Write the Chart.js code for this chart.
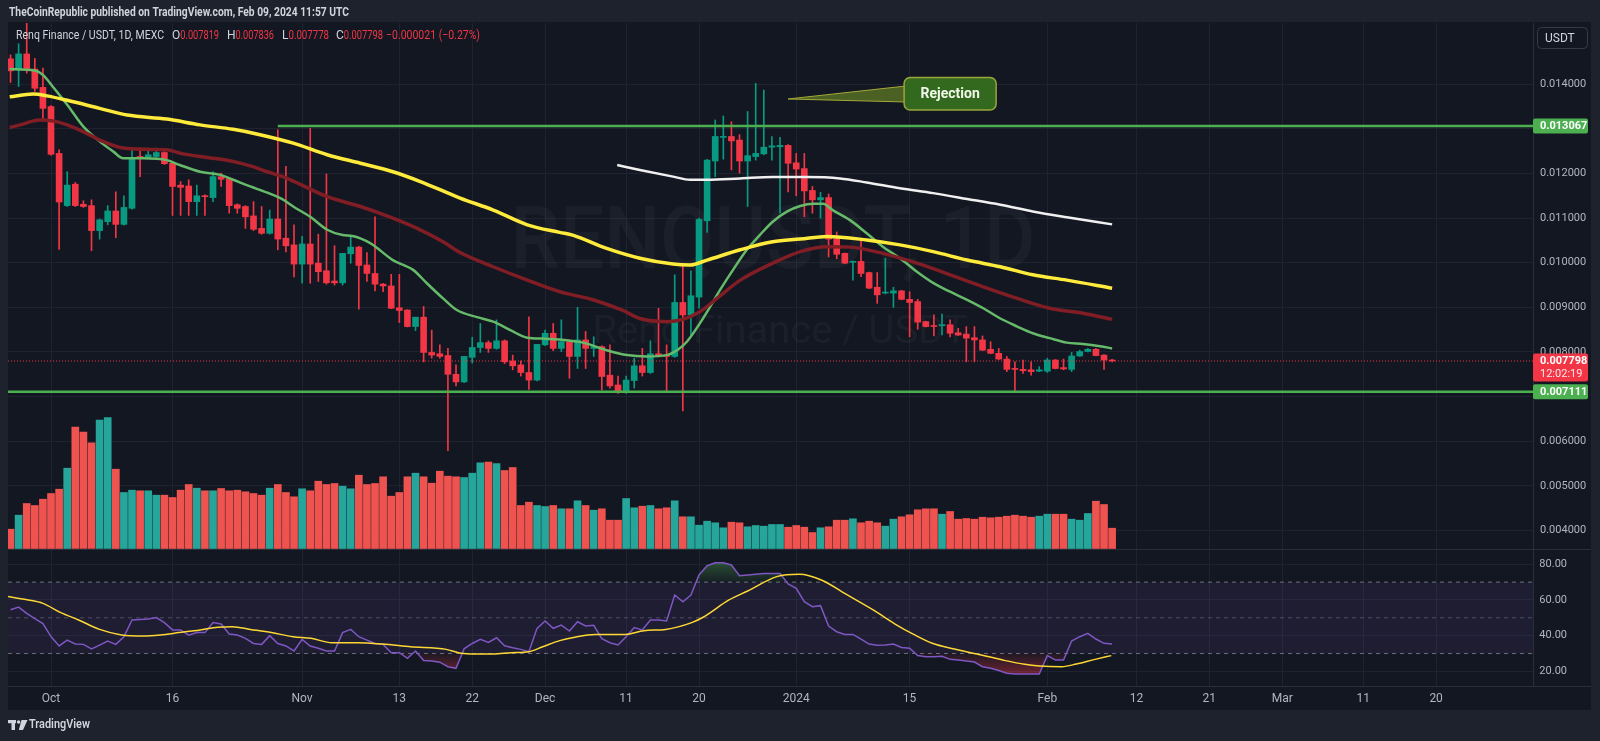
<!DOCTYPE html>
<html>
<head>
<meta charset="utf-8">
<title>Renq Finance / USDT, 1D, MEXC</title>
<script src="https://cdn.jsdelivr.net/npm/chart.js@4.4.1/dist/chart.umd.min.js"></script>
<style>
html,body{margin:0;padding:0;background:#1e222d;overflow:hidden}
canvas{display:block}
</style>
</head>
<body>
<canvas id="chart" width="1600" height="741"></canvas>
<script>
// ================= DATA =================
// days are counted from 2023-10-01; the first candle is 2023-09-26
const startDay = -5;

const opens = [0.01457,0.01432,0.01468,0.01434,0.01393,0.01350,0.01245,0.01128,0.01176,0.01131,
0.01128,0.01072,0.01092,0.01116,0.01086,0.01122,0.01238,0.01236,0.01238,0.01247,
0.01223,0.01174,0.01172,0.01137,0.01150,0.01146,0.01193,0.01189,0.01130,0.01126,
0.01105,0.01077,0.01066,0.01098,0.01055,0.01040,0.00997,0.01042,0.00999,0.00982,
0.00959,0.00955,0.01020,0.01035,0.00995,0.00976,0.00952,0.00948,0.00899,0.00894,
0.00857,0.00878,0.00799,0.00796,0.00792,0.00750,0.00733,0.00788,0.00810,0.00821,
0.00808,0.00825,0.00780,0.00771,0.00754,0.00737,0.00816,0.00842,0.00808,0.00823,
0.00790,0.00827,0.00808,0.00812,0.00748,0.00726,0.00709,0.00736,0.00769,0.00754,
0.00796,0.00793,0.00790,0.00911,0.00883,0.00923,0.01094,0.01228,0.01281,0.01283,
0.01275,0.01228,0.01238,0.01244,0.01259,0.01260,0.01263,0.01224,0.01211,0.01162,
0.01141,0.01146,0.01053,0.01021,0.01001,0.01003,0.00978,0.00945,0.00932,0.00932,
0.00937,0.00918,0.00913,0.00868,0.00858,0.00859,0.00861,0.00843,0.00840,0.00832,
0.00827,0.00806,0.00797,0.00784,0.00763,0.00761,0.00760,0.00757,0.00757,0.00782,
0.00765,0.00761,0.00791,0.00801,0.00806,0.00793,0.007819];

const highs = [0.01466,0.01491,0.01540,0.01458,0.01436,0.01352,0.01253,0.01204,0.01180,0.01139,
0.01141,0.01098,0.01128,0.01159,0.01150,0.01257,0.01257,0.01257,0.01257,0.01249,
0.01225,0.01182,0.01186,0.01174,0.01152,0.01204,0.01201,0.01191,0.01132,0.01128,
0.01137,0.01126,0.01118,0.01298,0.01216,0.01085,0.01059,0.01301,0.01064,0.01199,
0.01038,0.01021,0.01057,0.01037,0.01023,0.01103,0.00954,0.00974,0.00974,0.00895,
0.00878,0.00902,0.00849,0.00816,0.00808,0.00771,0.00790,0.00833,0.00864,0.00825,
0.00872,0.00827,0.00793,0.00780,0.00879,0.00817,0.00849,0.00864,0.00872,0.00825,
0.00900,0.00846,0.00834,0.00814,0.00816,0.00746,0.00746,0.00786,0.00808,0.00825,
0.00898,0.00816,0.00973,0.00997,0.00982,0.01100,0.01232,0.01320,0.01329,0.01316,
0.01287,0.01339,0.01402,0.01387,0.01283,0.01281,0.01265,0.01245,0.01245,0.01171,
0.01158,0.01154,0.01069,0.01022,0.01004,0.01051,0.00979,0.00978,0.01010,0.00945,
0.00938,0.00935,0.00918,0.00869,0.00883,0.00885,0.00872,0.00853,0.00857,0.00857,
0.00836,0.00823,0.00808,0.00790,0.00778,0.00782,0.00778,0.00767,0.00786,0.00783,
0.00784,0.00799,0.00804,0.00808,0.00808,0.00794,0.007836];

const lows = [0.01404,0.01395,0.01425,0.01384,0.01318,0.01241,0.01030,0.01126,0.01126,0.01124,
0.01027,0.01053,0.01085,0.01056,0.01084,0.01120,0.01193,0.01234,0.01236,0.01220,
0.01106,0.01106,0.01106,0.01106,0.01106,0.01137,0.01171,0.01111,0.01111,0.01077,
0.01072,0.01064,0.01064,0.01029,0.01024,0.00968,0.00954,0.00954,0.00958,0.00952,
0.00950,0.00950,0.00999,0.00896,0.00958,0.00937,0.00935,0.00897,0.00866,0.00856,
0.00848,0.00778,0.00786,0.00786,0.00579,0.00724,0.00731,0.00775,0.00799,0.00799,
0.00806,0.00774,0.00760,0.00746,0.00716,0.00735,0.00814,0.00803,0.00801,0.00741,
0.00763,0.00763,0.00790,0.00715,0.00719,0.00707,0.00707,0.00719,0.00746,0.00752,
0.00792,0.00713,0.00788,0.00668,0.00838,0.00898,0.01068,0.01193,0.01232,0.01208,
0.01201,0.01126,0.01230,0.01242,0.01230,0.01111,0.01159,0.01150,0.01103,0.01111,
0.01100,0.01013,0.01009,0.00998,0.00961,0.00969,0.00942,0.00909,0.00930,0.00900,
0.00917,0.00834,0.00851,0.00856,0.00836,0.00838,0.00834,0.00837,0.00778,0.00778,
0.00803,0.00796,0.00783,0.00756,0.00711,0.00752,0.00748,0.00756,0.00754,0.00762,
0.00760,0.00756,0.00790,0.00800,0.00791,0.00761,0.007778];

const closes = [0.01430,0.01468,0.01434,0.01391,0.01346,0.01243,0.01136,0.01174,0.01128,0.01126,
0.01072,0.01096,0.01116,0.01086,0.01124,0.01236,0.01236,0.01242,0.01247,0.01222,
0.01171,0.01169,0.01137,0.01150,0.01148,0.01193,0.01187,0.01128,0.01122,0.01103,
0.01075,0.01066,0.01098,0.01053,0.01038,0.00997,0.01042,0.00997,0.00980,0.00955,
0.00955,0.01021,0.01035,0.00994,0.00976,0.00952,0.00948,0.00898,0.00893,0.00857,
0.00878,0.00799,0.00793,0.00790,0.00750,0.00733,0.00790,0.00810,0.00821,0.00808,
0.00825,0.00778,0.00769,0.00754,0.00737,0.00817,0.00842,0.00808,0.00823,0.00790,
0.00827,0.00808,0.00812,0.00745,0.00724,0.00709,0.00737,0.00769,0.00754,0.00796,
0.00793,0.00790,0.00911,0.00883,0.00926,0.01097,0.01230,0.01283,0.01283,0.01273,
0.01228,0.01240,0.01245,0.01259,0.01262,0.01263,0.01223,0.01210,0.01161,0.01141,
0.01146,0.01053,0.01019,0.00999,0.01003,0.00976,0.00943,0.00928,0.00933,0.00937,
0.00918,0.00911,0.00867,0.00857,0.00857,0.00861,0.00842,0.00838,0.00831,0.00827,
0.00804,0.00797,0.00784,0.00761,0.00761,0.00758,0.00756,0.00760,0.00782,0.00763,
0.00762,0.00791,0.00801,0.00806,0.00792,0.007819,0.007798];

// relative volume per candle
const volumes = [19.3,33.3,45,43,49.3,55,59.3,80.3,121.3,116.3,
105.7,128.3,131,79.3,56,58.3,57.7,57.7,53.3,53.3,
51,58.3,64,60.3,57.7,57.7,60,57.7,58.3,56.7,
55,53.3,60.3,64,56,51.7,59.7,57.7,67.3,64,
65,62.3,59.7,73.3,64,65,71.7,52.3,56,71.7,
75.3,71.7,65.3,77.3,72.3,71.7,71,75.3,85.7,86.3,
85,78,81,43,46.3,43,42,43,39.7,39.7,
47.7,43,38.3,39.7,28.3,28.3,50,40.7,42.3,43,
39.7,40.7,47.7,31.7,31.7,23.3,27.3,25.7,20.7,26.3,
25.7,21.7,23,22.3,24,24,21.3,23,21.3,16,
20.7,21.7,28.3,28.3,29.7,25.7,27.3,25.7,22.3,29.3,
31.7,33.7,38.7,39.7,39.7,34.3,37,29.3,30,29.3,
31.3,30.7,31.3,32.3,33.3,32.3,31.3,32.3,34.3,34.3,
34.3,29.3,28.3,35,47.3,44,20.3];

const rsiValues = [54.5,56.0,52.5,49.5,46.8,39.5,34.2,37.5,35.3,35.1,
32.5,34.7,37.0,35.1,39.4,48.8,49.1,49.3,50.1,47.3,
43.2,43.2,40.3,41.7,41.7,47.3,46.5,40.9,40.3,38.5,
35.6,35.1,40.0,35.6,34.2,31.4,37.9,34.2,32.9,31.4,
31.4,41.7,43.5,39.4,37.5,35.6,35.1,30.4,30.4,27.3,
31.4,26.0,25.8,25.1,22.6,21.7,32.6,35.6,37.9,36.2,
38.8,34.3,33.2,32.3,31.0,44.1,48.2,44.1,45.9,42.6,
47.8,45.4,45.8,38.3,36.0,34.8,39.4,44.5,43.2,48.8,
48.8,48.2,62.8,59.0,62.8,74.0,79.2,80.9,80.9,79.6,
73.6,74.0,74.4,74.9,74.9,74.9,69.0,66.5,59.0,56.2,
56.8,45.4,42.2,40.7,40.7,38.1,35.3,34.6,34.8,35.3,
33.4,32.9,28.8,28.2,28.2,28.4,26.7,26.3,25.8,25.2,
22.6,21.7,20.4,18.9,18.5,18.5,18.5,18.5,28.8,26.3,
26.3,37.0,39.4,41.3,38.1,35.7,35.3];

// [day, value] pairs
const rsiMa = [[-5.3,61.9],[-2.8,60.0],[-1.0,58.1],[1.2,52.9],[3.4,48.8],[6.0,43.5],[8.7,40.4],[11.4,39.8],[13.5,40.4],[15.8,41.7],[18.4,43.2],[20.6,44.7],[22.4,45.0],[24.6,43.5],[27.2,41.7],[29.9,39.4],[32.1,38.5],[34.7,36.0],[37.8,36.0],[40.9,35.3],[44.4,33.8],[48.8,32.3],[50.6,30.1],[52.4,29.7],[54.6,29.7],[56.8,30.4],[59.0,31.0],[60.7,33.8],[62.8,37.2],[64.5,39.0],[67.2,40.7],[70.9,40.7],[73.2,42.8],[75.9,43.5],[79.1,47.3],[80.5,50.3],[83.7,60.0],[86.0,65.0],[89.6,73.1],[92.4,74.4],[95.1,71.2],[98.3,62.8],[101.5,54.4],[104.2,46.5],[106.5,40.7],[108.8,35.7],[111.5,32.5],[114.3,29.7],[117.5,26.3],[120.2,23.9],[122.0,23.0],[124.8,22.6],[126.6,24.1],[128.9,26.7],[130.9,28.8]];

const sma20 = [[-5.1,0.01434],[-2.0,0.01431],[-1.0,0.01421],[0.2,0.01395],[2.0,0.01354],[4.0,0.01305],[6.0,0.01272],[7.7,0.01249],[8.9,0.01234],[11.4,0.01234],[14.3,0.01230],[15.9,0.01219],[18.4,0.01204],[20.9,0.01197],[22.5,0.01186],[24.6,0.01171],[26.7,0.01157],[28.6,0.01142],[29.9,0.01126],[32.0,0.01103],[34.1,0.01074],[36.0,0.01062],[37.2,0.01060],[39.4,0.01044],[42.2,0.01006],[44.7,0.00984],[46.4,0.00954],[48.4,0.00920],[50.1,0.00894],[52.6,0.00878],[54.6,0.00868],[56.7,0.00849],[58.8,0.00832],[60.7,0.00830],[62.8,0.00828],[65.7,0.00821],[68.6,0.00804],[71.1,0.00793],[73.6,0.00790],[76.0,0.00793],[77.3,0.00804],[78.5,0.00823],[80.1,0.00864],[81.4,0.00902],[82.6,0.00939],[84.2,0.00984],[85.9,0.01029],[87.5,0.01062],[89.1,0.01092],[90.9,0.01115],[92.5,0.01127],[94.1,0.01132],[95.3,0.01132],[96.5,0.01118],[98.6,0.01096],[100.7,0.01066],[102.7,0.01036],[104.8,0.01010],[106.9,0.00980],[108.9,0.00955],[111.0,0.00935],[113.1,0.00917],[115.1,0.00898],[117.2,0.00875],[119.3,0.00857],[121.2,0.00842],[123.3,0.00831],[125.4,0.00821],[127.4,0.00818],[129.5,0.00813],[131.0,0.00808]];

const sma50 = [[-5.1,0.01303],[-3.8,0.01309],[-1.4,0.01320],[0.2,0.01318],[2.0,0.01309],[4.4,0.01290],[6.0,0.01275],[8.9,0.01257],[12.2,0.01254],[14.3,0.01253],[16.3,0.01244],[19.3,0.01236],[22.5,0.01227],[24.6,0.01217],[26.7,0.01204],[28.6,0.01193],[29.9,0.01183],[34.1,0.01148],[38.2,0.01126],[42.2,0.01100],[45.2,0.01077],[48.4,0.01047],[50.5,0.01023],[54.6,0.00991],[58.8,0.00961],[62.8,0.00935],[64.4,0.00928],[66.9,0.00917],[70.6,0.00893],[72.7,0.00875],[76.0,0.00868],[78.0,0.00873],[80.1,0.00890],[82.2,0.00920],[85.1,0.00961],[89.1,0.00999],[92.5,0.01025],[95.8,0.01036],[98.6,0.01035],[102.7,0.01021],[106.9,0.00999],[111.0,0.00973],[115.1,0.00946],[119.3,0.00920],[123.3,0.00898],[127.4,0.00887],[131.0,0.00873]];

const sma100 = [[-5.1,0.01372],[-2.2,0.01378],[-0.5,0.01374],[2.0,0.01364],[6.0,0.01346],[9.4,0.01331],[14.3,0.01322],[18.4,0.01309],[22.5,0.01299],[25.8,0.01287],[29.9,0.01268],[34.1,0.01242],[38.2,0.01223],[42.2,0.01204],[45.6,0.01182],[50.5,0.01145],[54.6,0.01118],[58.8,0.01085],[62.8,0.01068],[64.4,0.01062],[68.6,0.01032],[72.7,0.01010],[76.8,0.00997],[78.9,0.00995],[81.0,0.01006],[85.1,0.01029],[89.1,0.01047],[92.5,0.01053],[95.8,0.01059],[100.7,0.01051],[104.8,0.01040],[108.9,0.01025],[113.1,0.01006],[117.2,0.00991],[121.2,0.00973],[125.4,0.00961],[131.0,0.00943]];

const sma200 = [[69.9,0.01219],[72.7,0.01208],[76.8,0.01193],[78.9,0.01186],[81.0,0.01186],[85.1,0.01189],[89.1,0.01192],[93.3,0.01192],[97.4,0.01189],[100.7,0.01180],[104.8,0.01167],[108.9,0.01156],[113.1,0.01143],[117.2,0.01130],[121.2,0.01115],[125.4,0.01102],[131.0,0.01086]];

const resistance = 0.013067, resistanceFromDay = 28;
const support = 0.007111;
const lastPrice = 0.007798;
const countdown = '12:02:19';
const rejection = {day: 91, price: 0.01367, text: 'Rejection'};

const xTickDays   = [0, 15, 31, 43, 52, 61, 71, 80, 92, 106, 123, 134, 143, 152, 162, 171];
const xTickLabels = ['Oct','16','Nov','13','22','Dec','11','20','2024','15','Feb','12','21','Mar','11','20'];
const priceTicks  = [0.004,0.005,0.006,0.007,0.008,0.009,0.010,0.011,0.012,0.013,0.014];
const rsiTicks    = [20, 40, 60, 80];
const rsiLevels   = [30, 50, 70];

// ================= RENDER =================
const FONT = "Roboto, 'Liberation Sans', sans-serif";
Chart.defaults.font.family = FONT;

const upColor = '#089981', downColor = '#f23645';
const volUp = '#26a69a', volDown = '#ef5350';

const N = opens.length;
const days = opens.map((_, i) => startDay + i);
const isUp = closes.map((c, i) => c >= opens[i]);
const candleColors = isUp.map(u => u ? upColor : downColor);

const xMin = -5.31, xMax = 182.96;
const priceMin = 0.000514, priceMax = 0.015373;
const rsiMin = 11.76, rsiMax = 383.5;
const volMin = -137.5, volMax = 525.5;

const pairs = arr => arr.map(p => ({x: p[0], y: p[1]}));
const flat = v => [{x: xMin, y: v}, {x: xMax, y: v}];

function fitText(c, text, x, y, w, font, color, align) {
  c.save();
  c.font = font; c.fillStyle = color; c.textBaseline = 'middle';
  c.textAlign = align || 'left';
  const m = c.measureText(text).width;
  const s = w ? Math.max(0.75, Math.min(1.25, w / m)) : 1;
  c.translate(x, y); c.scale(s, 1);
  c.fillText(text, 0, 0);
  c.restore();
  return m * s;
}

const overlay = {
  id: 'overlay',
  beforeDraw(chart) {
    const c = chart.ctx;
    c.save();
    c.fillStyle = '#1e222d'; c.fillRect(0, 0, 1600, 741);
    c.fillStyle = '#131722'; c.fillRect(8, 22, 1583, 688);
    c.restore();
  },
  beforeDatasetsDraw(chart) {
    const c = chart.ctx;
    fitText(c, 'RENQUSDT, 1D', 773, 246, 525, '500 88px ' + FONT, 'rgba(255,255,255,0.035)', 'center');
    fitText(c, 'Renq Finance / USDT', 780, 333, 375, '38px ' + FONT, 'rgba(255,255,255,0.035)', 'center');
  },
  afterDatasetsDraw(chart) {
    const c = chart.ctx;
    const xs = chart.scales.x, ys = chart.scales.y;
    const area = chart.chartArea;
    c.save();
    // pane separators
    c.strokeStyle = '#2a2e39'; c.lineWidth = 1;
    c.beginPath();
    c.moveTo(8, 549.5); c.lineTo(1591, 549.5);
    c.moveTo(8, area.bottom + 0.5); c.lineTo(1591, area.bottom + 0.5);
    c.stroke();

    // header
    fitText(c, 'TheCoinRepublic published on TradingView.com, Feb 09, 2024 11:57 UTC', 9, 13, 340, 'bold 12px ' + FONT, '#d1d4dc');
    fitText(c, 'Renq Finance / USDT, 1D, MEXC', 16, 36, 148, '12px ' + FONT, '#d1d4dc');
    const last = N - 1;
    const ohlc = [['O', opens[last], 172], ['H', highs[last], 227], ['L', lows[last], 282], ['C', closes[last], 336]];
    ohlc.forEach(([k, v, x]) => {
      const w = fitText(c, k, x, 36, 0, '12px ' + FONT, '#d1d4dc');
      fitText(c, v.toFixed(6), x + w, 36, 47 - w, '12px ' + FONT, '#f23645');
    });
    const chg = closes[last] - closes[last - 1];
    const pct = chg / closes[last - 1] * 100;
    const sign = chg < 0 ? '\u2212' : '+';
    fitText(c, sign + Math.abs(chg).toFixed(6) + ' (' + sign + Math.abs(pct).toFixed(2) + '%)', 386, 36, 94, '12px ' + FONT, '#f23645');

    // rejection callout
    const ax = xs.getPixelForValue(rejection.day), ay = ys.getPixelForValue(rejection.price);
    const bx = ax + 116, by = ay - 21.5, bw = 92, bh = 32.5;
    c.beginPath();
    c.moveTo(ax, ay); c.lineTo(bx + 2, ay - 13); c.lineTo(bx + 2, ay + 3); c.closePath();
    c.fillStyle = 'rgba(85,110,35,0.85)'; c.fill();
    c.strokeStyle = '#a5a83a'; c.lineWidth = 1; c.stroke();
    c.beginPath(); c.roundRect(bx, by, bw, bh, 6);
    c.fillStyle = '#33691e'; c.fill();
    c.strokeStyle = '#9aa53a'; c.lineWidth = 1.5; c.stroke();
    fitText(c, rejection.text, bx + bw / 2, by + bh / 2 + 0.5, 0, 'bold 14px ' + FONT, '#f1f8e9', 'center');

    // price tags
    function tag(y, text, bg, sub) {
      const h = sub ? 28 : 15;
      c.fillStyle = bg;
      c.beginPath(); c.roundRect(1533, y - 7.5, 55, h, 2); c.fill();
      fitText(c, text, 1540, y + 0.5, 0, 'bold 11px ' + FONT, '#ffffff');
      if (sub) fitText(c, sub, 1540, y + 13, 0, '11px ' + FONT, 'rgba(255,255,255,0.88)');
    }
    tag(ys.getPixelForValue(resistance), resistance.toFixed(6), '#4caf50');
    tag(ys.getPixelForValue(lastPrice), lastPrice.toFixed(6), '#f23645', countdown);
    tag(ys.getPixelForValue(support), support.toFixed(6), '#4caf50');

    // currency box
    c.beginPath(); c.roundRect(1537.5, 27.5, 50, 21, 4);
    c.strokeStyle = '#363a45'; c.lineWidth = 1; c.stroke();
    fitText(c, 'USDT', 1545, 38.5, 0, '12px ' + FONT, '#d1d4dc');

    // TradingView logo
    c.fillStyle = '#d1d4dc';
    c.fillRect(8, 720, 8, 3.2);
    c.fillRect(11.5, 720, 3.5, 10);
    c.beginPath(); c.arc(18.6, 722, 1.8, 0, Math.PI * 2); c.fill();
    c.beginPath(); c.moveTo(21.5, 720); c.lineTo(27.5, 720); c.lineTo(23, 730); c.lineTo(18.8, 730); c.closePath(); c.fill();
    fitText(c, 'TradingView', 29, 725, 61, '600 13px ' + FONT, '#d1d4dc');
    c.restore();
  }
};

const rsiAboveFill = (ctx) => {
  const ch = ctx.chart, s = ch.scales && ch.scales.rsi;
  let above = 'rgba(76,175,80,0.3)';
  if (s && ch.chartArea) {
    const g = ch.ctx.createLinearGradient(0, s.getPixelForValue(70), 0, s.getPixelForValue(84));
    g.addColorStop(0, 'rgba(76,175,80,0.05)'); g.addColorStop(1, 'rgba(76,175,80,0.45)');
    above = g;
  }
  return {target: {value: 70}, above, below: 'rgba(0,0,0,0)'};
};
const rsiBelowFill = (ctx) => {
  const ch = ctx.chart, s = ch.scales && ch.scales.rsi;
  let below = 'rgba(242,54,69,0.3)';
  if (s && ch.chartArea) {
    const g = ch.ctx.createLinearGradient(0, s.getPixelForValue(30), 0, s.getPixelForValue(17));
    g.addColorStop(0, 'rgba(242,54,69,0.05)'); g.addColorStop(1, 'rgba(242,54,69,0.45)');
    below = g;
  }
  return {target: {value: 30}, above: 'rgba(0,0,0,0)', below};
};

const lineBase = {type: 'line', pointRadius: 0, pointHoverRadius: 0, cubicInterpolationMode: 'monotone', fill: false};

const datasets = [
  {type: 'bar', yAxisID: 'vol', data: days.map((d, i) => ({x: d, y: volumes[i]})),
   backgroundColor: isUp.map(u => u ? volUp : volDown), barThickness: 7, grouped: false, order: 20},
  // RSI band 30..70
  {...lineBase, yAxisID: 'rsi', data: flat(rsiLevels[2]), borderColor: 'rgba(120,123,134,0.9)', borderWidth: 1, borderDash: [4, 4],
   fill: '+1', backgroundColor: 'rgba(126,87,194,0.1)', order: 15},
  {...lineBase, yAxisID: 'rsi', data: flat(rsiLevels[0]), borderColor: 'rgba(120,123,134,0.9)', borderWidth: 1, borderDash: [4, 4], order: 15},
  {...lineBase, yAxisID: 'rsi', data: flat(rsiLevels[1]), borderColor: 'rgba(120,123,134,0.55)', borderWidth: 1, borderDash: [4, 4], order: 15},
  // RSI oversold fill (invisible line) and RSI line with overbought fill
  {...lineBase, cubicInterpolationMode: 'default', tension: 0, yAxisID: 'rsi', data: days.map((d, i) => ({x: d, y: rsiValues[i]})),
   borderWidth: 0, borderColor: 'rgba(0,0,0,0)', fill: rsiBelowFill, order: 14},
  {...lineBase, cubicInterpolationMode: 'default', tension: 0, yAxisID: 'rsi', data: days.map((d, i) => ({x: d, y: rsiValues[i]})),
   borderColor: '#7e57c2', borderWidth: 1.5, fill: rsiAboveFill, order: 13},
  {...lineBase, yAxisID: 'rsi', data: pairs(rsiMa), borderColor: '#fdd835', borderWidth: 1.5, order: 12},
  // candles
  {type: 'bar', yAxisID: 'y', data: days.map((d, i) => ({x: d, y: [lows[i], highs[i]]})),
   backgroundColor: candleColors, barThickness: 1, grouped: false, order: 6},
  {type: 'bar', yAxisID: 'y', data: days.map((d, i) => ({x: d, y: [opens[i], closes[i]]})),
   backgroundColor: candleColors, barThickness: 6, minBarLength: 1, grouped: false, order: 5},
  // moving averages
  {...lineBase, yAxisID: 'y', data: pairs(sma200), borderColor: '#f0f0f0', borderWidth: 2.5, order: 4},
  {...lineBase, yAxisID: 'y', data: pairs(sma100), borderColor: '#ffeb3b', borderWidth: 3.5, order: 4},
  {...lineBase, yAxisID: 'y', data: pairs(sma50), borderColor: '#801d25', borderWidth: 3.5, order: 4},
  {...lineBase, yAxisID: 'y', data: pairs(sma20), borderColor: '#66bb6a', borderWidth: 2.5, order: 4},
  // price levels
  {...lineBase, yAxisID: 'y', data: flat(lastPrice), borderColor: '#f23645', borderWidth: 1, borderDash: [1, 2], order: 3},
  {...lineBase, yAxisID: 'y', data: [{x: resistanceFromDay, y: resistance}, {x: xMax, y: resistance}], borderColor: '#4caf50', borderWidth: 2.5, order: 2},
  {...lineBase, yAxisID: 'y', data: flat(support), borderColor: '#4caf50', borderWidth: 2.5, order: 2}
];

const gridColor = '#1f2330';
const tickColor = '#b2b5be';
const noVPad = ax => { ax.paddingTop = 0; ax.paddingBottom = 0; ax.paddingLeft = 0; ax.paddingRight = 0; };

new Chart(document.getElementById('chart'), {
  data: {datasets},
  options: {
    responsive: false, animation: false, devicePixelRatio: 1, events: [],
    layout: {padding: {left: 8, top: 23, right: 9, bottom: 31}},
    plugins: {legend: {display: false}, tooltip: {enabled: false}},
    scales: {
      x: {
        type: 'linear', position: 'bottom', min: xMin, max: xMax, offset: false,
        afterBuildTicks: ax => { ax.ticks = xTickDays.map(v => ({value: v})); },
        afterFit: ax => { ax.height = 24; noVPad(ax); },
        ticks: {autoSkip: false, maxRotation: 0, padding: 6, color: tickColor, font: {size: 12},
                callback: (v, i) => xTickLabels[i]},
        grid: {color: gridColor, drawTicks: false, offset: false},
        border: {display: false}
      },
      y: {
        type: 'linear', position: 'right', weight: 1, min: priceMin, max: priceMax,
        afterBuildTicks: ax => { ax.ticks = priceTicks.map(v => ({value: v})); },
        afterFit: ax => { ax.width = 58; noVPad(ax); },
        ticks: {autoSkip: false, padding: 7, color: tickColor, font: {size: 11}, callback: v => v.toFixed(6)},
        grid: {color: gridColor, drawTicks: false},
        border: {display: true, color: '#2a2e39'}
      },
      rsi: {
        type: 'linear', position: 'right', weight: 0, min: rsiMin, max: rsiMax,
        afterBuildTicks: ax => { ax.ticks = rsiTicks.map(v => ({value: v})); },
        afterFit: ax => { ax.width = 0; noVPad(ax); },
        ticks: {autoSkip: false, mirror: true, crossAlign: 'near', padding: 34, color: tickColor, font: {size: 11}, callback: v => v.toFixed(2)},
        grid: {color: gridColor, drawTicks: false},
        border: {display: false}
      },
      vol: {type: 'linear', position: 'right', display: false, min: volMin, max: volMax,
            afterFit: ax => { noVPad(ax); }}
    }
  },
  plugins: [overlay]
});
</script>
</body>
</html>
